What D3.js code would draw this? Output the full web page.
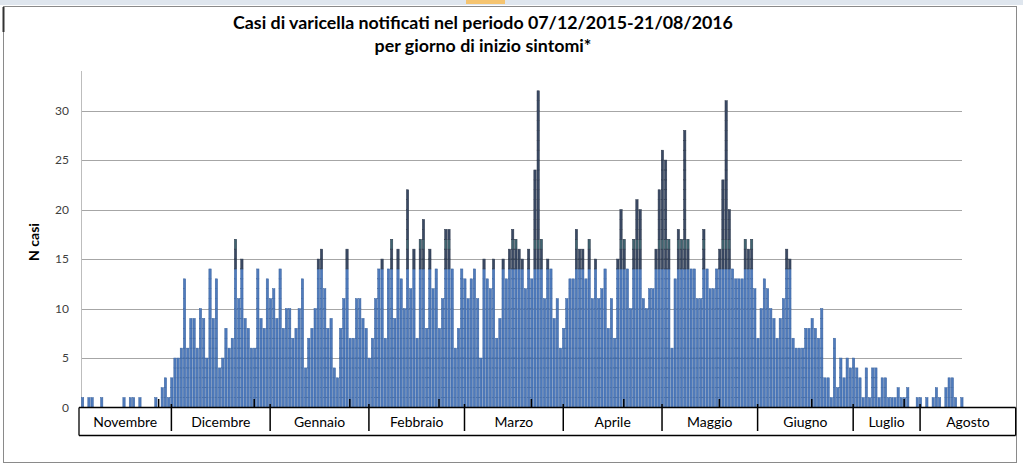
<!DOCTYPE html>
<html>
<head>
<meta charset="utf-8">
<script src="https://cdn.jsdelivr.net/npm/d3@7/dist/d3.min.js"></script>
<style>
  body { margin: 0; background: #fff; }
  svg { display: block; font-family: Lato, "Open Sans", sans-serif; }
</style>
</head>
<body>
<div id="chart"></div>
<script>
// cases per day of symptom onset, one value per category slot
const cases = [
  1,0,1,1,0,0,1,0,0,0,
  0,0,0,1,0,1,1,0,1,0,
  0,0,0,1,0,2,3,1,3,5,
  5,6,13,6,9,9,6,10,9,5,
  14,9,13,4,5,8,6,7,17,11,
  15,9,8,6,6,14,9,8,13,11,
  12,9,14,8,10,10,7,8,10,13,
  4,7,8,10,15,16,12,8,9,4,
  3,8,11,16,7,7,11,11,9,8,
  5,7,11,14,15,7,14,17,9,16,
  13,10,22,12,16,7,17,19,8,16,
  12,14,8,11,18,18,14,6,8,14,
  13,11,13,14,11,5,15,13,12,15,
  7,9,15,13,16,18,17,16,15,12,
  16,13,24,32,17,11,15,14,9,11,
  6,8,11,13,13,18,16,16,13,17,
  11,15,11,12,14,8,11,7,15,20,
  17,14,10,17,21,20,11,10,12,12,
  16,22,26,25,17,6,13,18,17,28,
  17,14,14,11,11,18,14,12,12,14,
  16,23,31,20,14,13,13,13,17,16,
  17,12,7,10,13,12,10,9,7,9,
  11,16,15,7,6,6,6,8,8,9,
  8,7,10,3,3,1,7,2,5,3,
  5,4,5,4,3,1,4,1,4,4,
  1,3,3,1,1,1,2,1,1,2,
  0,0,1,1,0,1,0,1,2,1,
  0,2,3,3,1,0,1
];

// month boxes under the chart (number of slots in each box)
const months = ["Novembre", "Dicembre", "Gennaio", "Febbraio", "Marzo", "Aprile", "Maggio", "Giugno", "Luglio", "Agosto"];
const monthSlots = [29, 31, 31, 30, 31, 31, 30, 30, 21, 30];
// small tick marks on the day axis
const dayTicks = [25, 55, 85, 113, 142, 171, 201, 230, 259];
const yTicks = [0, 5, 10, 15, 20, 25, 30];
const titleLines = ["Casi di varicella notificati nel periodo 07/12/2015-21/08/2016", "per giorno di inizio sintomi*"];
const yTitle = "N casi";

const W = 1023, H = 466;
const plot = { left: 81, right: 962, top: 71, bottom: 407.5 };

const svg = d3.select('#chart').append('svg')
    .attr('width', W)
    .attr('height', H);

// spreadsheet frame around the chart
svg.append('rect').attr('x', 0).attr('y', 0).attr('width', W).attr('height', 5).attr('fill', '#dfe6ee');
svg.append('rect').attr('x', 466).attr('y', 0).attr('width', 39).attr('height', 4).attr('fill', '#f5c470');
svg.append('rect')
    .attr('x', 3.5).attr('y', 6.5)
    .attr('width', 1013).attr('height', 456)
    .attr('fill', 'none').attr('stroke', '#8a8a8a');
svg.append('line').attr('x1', 3.5).attr('x2', 3.5).attr('y1', 7).attr('y2', 32)
    .attr('stroke', '#333').attr('stroke-width', 2);

// scales
const x = d3.scaleBand()
    .domain(d3.range(cases.length))
    .range([81, 963.5])
    .paddingInner(0.27)
    .paddingOuter(0.135);

const y = d3.scaleLinear().domain([0, 34]).range([plot.bottom, plot.top]);

const totalSlots = d3.sum(monthSlots);
const mx = d3.scaleLinear().domain([0, totalSlots]).range([79, 79 + totalSlots * x.step()]);

// gridlines
svg.append('g').selectAll('line')
    .data(yTicks.filter(d => d > 0))
    .join('line')
    .attr('x1', plot.left).attr('x2', plot.right)
    .attr('y1', d => Math.round(y(d)) + 0.5)
    .attr('y2', d => Math.round(y(d)) + 0.5)
    .attr('stroke', '#a6a6a6');

// y axis line
svg.append('line')
    .attr('x1', plot.left + 0.5).attr('x2', plot.left + 0.5)
    .attr('y1', plot.top).attr('y2', plot.bottom)
    .attr('stroke', '#bdbdbd');

// y tick labels
svg.append('g').selectAll('text')
    .data(yTicks)
    .join('text')
    .attr('x', 69)
    .attr('y', d => y(d))
    .attr('dy', '0.35em')
    .attr('text-anchor', 'end')
    .attr('font-size', 12)
    .attr('fill', '#404040')
    .text(d => d);

// bars: one small rect for each case, stacked
const units = cases.flatMap((v, i) => d3.range(1, v + 1).map(k => ({ i: i, k: k })));

function unitFill(k) {
    if (k <= 14) return '#4f7bbd';
    if (k === 17) return '#3f6570';
    return '#3a4964';
}

svg.append('g').selectAll('rect')
    .data(units)
    .join('rect')
    .attr('x', d => x(d.i))
    .attr('width', x.bandwidth())
    .attr('y', d => y(d.k))
    .attr('height', d => y(d.k - 1) - y(d.k))
    .attr('fill', d => unitFill(d.k))
    .attr('stroke', d => d.k <= 14 ? '#3a629c' : '#2b3648')
    .attr('stroke-width', 0.5);

// month table under the axis
const bounds = d3.cumsum(monthSlots);
const starts = [0].concat(Array.from(bounds).slice(0, -1));

const axis = svg.append('g');
axis.append('line')
    .attr('x1', mx(0)).attr('x2', mx(totalSlots))
    .attr('y1', plot.bottom).attr('y2', plot.bottom)
    .attr('stroke', '#000').attr('stroke-width', 1.3);
axis.append('line')
    .attr('x1', mx(0)).attr('x2', mx(totalSlots))
    .attr('y1', 435.5).attr('y2', 435.5)
    .attr('stroke', '#000').attr('stroke-width', 1.3);
axis.selectAll('line.edge')
    .data([0, totalSlots])
    .join('line')
    .attr('class', 'edge')
    .attr('x1', d => mx(d)).attr('x2', d => mx(d))
    .attr('y1', plot.bottom).attr('y2', 435.5)
    .attr('stroke', '#000').attr('stroke-width', 1.3);
axis.selectAll('line.divider')
    .data(Array.from(bounds).slice(0, -1))
    .join('line')
    .attr('class', 'divider')
    .attr('x1', d => mx(d)).attr('x2', d => mx(d))
    .attr('y1', 404).attr('y2', 431)
    .attr('stroke', '#000').attr('stroke-width', 1.5);
axis.selectAll('line.daytick')
    .data(dayTicks)
    .join('line')
    .attr('class', 'daytick')
    .attr('x1', d => mx(d)).attr('x2', d => mx(d))
    .attr('y1', 399).attr('y2', plot.bottom)
    .attr('stroke', '#000').attr('stroke-width', 1.5);

const monthLabels = axis.selectAll('text')
    .data(months)
    .join('text')
    .attr('x', (d, i) => (mx(starts[i]) + mx(bounds[i])) / 2)
    .attr('y', 427)
    .attr('text-anchor', 'middle')
    .attr('font-size', 13)
    .attr('fill', '#000')
    .text(d => d);
// match the label width of the original ("Novembre" ~ 64px)
const nov = monthLabels.filter((d, i) => i === 0).node().getComputedTextLength();
monthLabels.attr('font-size', 13 * 64 / nov);

// y title
svg.append('text')
    .attr('transform', 'translate(39,242) rotate(-90)')
    .attr('text-anchor', 'middle')
    .attr('font-size', 14)
    .attr('font-weight', 'bold')
    .text(yTitle);

// chart title
const title = svg.append('g').selectAll('text')
    .data(titleLines)
    .join('text')
    .attr('x', 483)
    .attr('y', (d, i) => 29 + i * 23)
    .attr('text-anchor', 'middle')
    .attr('font-size', 18)
    .attr('font-weight', 'bold')
    .attr('fill', '#000')
    .text(d => d);
const t0 = title.filter((d, i) => i === 0).node().getComputedTextLength();
title.attr('font-size', 18 * 500 / t0);
</script>
</body>
</html>
